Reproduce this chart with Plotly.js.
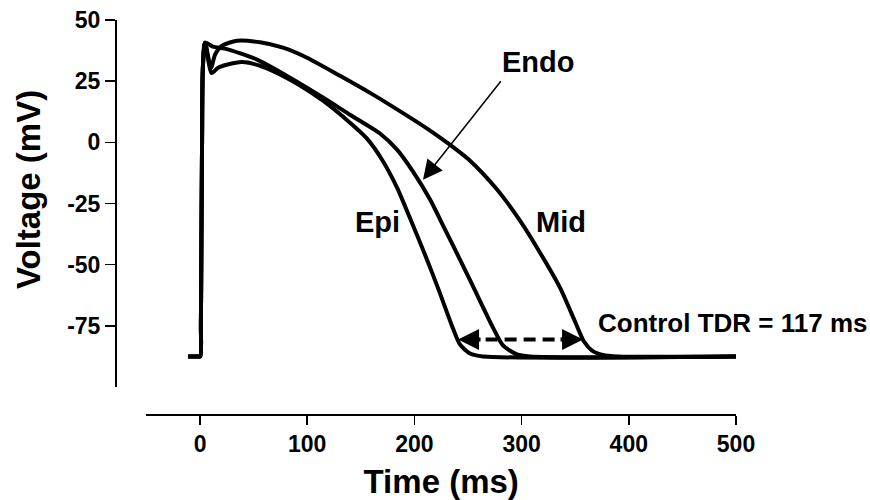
<!DOCTYPE html>
<html>
<head>
<meta charset="utf-8">
<script src="https://cdn.plot.ly/plotly-3.0.1.min.js"></script>
<style>html,body{margin:0;padding:0;background:#fff;}#chart{width:870px;height:500px;}</style>
</head>
<body>
<div id="chart"></div>
<script>
// Epicardial action potential (time ms, voltage mV)
const epiTime = [-11, -1.5, 0.3, 0.8, 1.3, 1.9, 2.6, 4.7, 10.9, 16.8, 24.9, 39.2, 56, 84, 114.7, 139.9, 155.8, 169.8, 183.8, 198.7, 209.9, 222.9, 236.0, 242.5, 251.9, 264, 500];
const epiVolt = [-87.5, -87.5, -87.5, -75, -40, 0, 30, 40.7, 28.3, 30.5, 31.7, 32.8, 31.3, 25.6, 17.0, 8.0, 1.5, -7.1, -18.5, -34.0, -45.9, -60.6, -76.1, -82.6, -86.3, -87.5, -87.5];

// Endocardial action potential
const endoTime = [-11, -1.5, 0.3, 0.8, 1.3, 1.9, 2.6, 4.7, 12.1, 23.3, 53.2, 84, 114.7, 139.9, 167.9, 183.8, 198.7, 214.6, 228.5, 241.6, 254.7, 273.3, 282.6, 295.7, 307.8, 500];
const endoVolt = [-87.5, -87.5, -87.5, -75, -40, 0, 30, 40.7, 39.1, 38.3, 33.8, 26.4, 18.3, 11.3, 3.6, -3.0, -12.0, -23.4, -35.6, -47.1, -58.9, -75.7, -83.0, -86.7, -87.5, -87.5];

// Midmyocardial (M cell) action potential
const midTime = [-11, -1.5, 0.3, 0.8, 1.3, 1.9, 2.6, 4.7, 10.3, 14, 20.5, 34.5, 56, 77.4, 99.8, 130.6, 161.4, 193.1, 214.6, 230.4, 251.9, 277.1, 298.5, 317.2, 335.8, 349.8, 358.2, 365.7, 375.9, 389.9, 500];
const midVolt = [-87.5, -87.5, -87.5, -75, -40, 0, 30, 40.7, 30.5, 35.8, 39.5, 41.5, 40.9, 38.7, 34.6, 27.2, 19.5, 10.9, 4.8, -0.1, -7.5, -19.3, -32.0, -45.1, -59.4, -73.2, -81.4, -85.1, -86.9, -87.5, -87.5];

// Axis ticks
const xTickVals = [0, 100, 200, 300, 400, 500];
const xTickText = ['0', '100', '200', '300', '400', '500'];
const yTickVals = [50, 25, 0, -25, -50, -75];
const yTickText = ['50', '25', '0', '-25', '-50', '-75'];

// Transmural dispersion of repolarization (ms)
const tdrStart = 240.7;
const tdrEnd = 357.3;
const tdrLevel = -80.6;
const tdrLabel = 'Control TDR = 117 ms';

const FONT = 'Liberation Sans, Arial, Helvetica, sans-serif';
const lineStyle = {color: '#000', width: 4, shape: 'spline', smoothing: 0.7};

const traces = [
  {x: epiTime, y: epiVolt, name: 'Epi', mode: 'lines', line: lineStyle},
  {x: endoTime, y: endoVolt, name: 'Endo', mode: 'lines', line: lineStyle},
  {x: midTime, y: midVolt, name: 'Mid', mode: 'lines', line: lineStyle}
];

const bold = (size) => ({family: FONT, size: size, color: '#000', weight: 'bold'});

const layout = {
  width: 870, height: 500,
  margin: {l: 115, r: 134, t: 20, b: 86},
  paper_bgcolor: '#fff', plot_bgcolor: '#fff',
  showlegend: false,
  xaxis: {
    domain: [0.0506, 1], range: [-50, 500], anchor: 'free', position: 0,
    showgrid: false, zeroline: false, showline: true, linecolor: '#000', linewidth: 1.5,
    ticks: 'outside', ticklen: 9, tickwidth: 1.5, tickcolor: '#000',
    tickvals: xTickVals, ticktext: xTickText, tickfont: bold(23),
    title: {text: 'Time (ms)', font: bold(33), standoff: 16}
  },
  yaxis: {
    domain: [0.0685, 1], range: [-100, 50], anchor: 'free', position: 0,
    showgrid: false, zeroline: false, showline: true, linecolor: '#000', linewidth: 1.5,
    ticks: 'outside', ticklen: 10, tickwidth: 1.5, tickcolor: '#000',
    tickvals: yTickVals, ticktext: yTickText, tickfont: bold(23)
  },
  shapes: [
    {type: 'line', xref: 'x', yref: 'y', x0: tdrStart + 8, x1: tdrEnd - 8, y0: tdrLevel, y1: tdrLevel,
     line: {color: '#000', width: 4, dash: '12px,7px'}}
  ],
  annotations: [
    {x: -0.140, y: 0.5685, xref: 'paper', yref: 'paper', xanchor: 'center', yanchor: 'middle',
     text: 'Voltage (mV)', textangle: -90, showarrow: false, font: bold(33)},
    {x: 315.3, y: 32.9, xref: 'x', yref: 'y', text: 'Endo', showarrow: false, font: bold(29)},
    {x: 166.0, y: -32.4, xref: 'x', yref: 'y', text: 'Epi', showarrow: false, font: bold(29)},
    {x: 336.8, y: -32.4, xref: 'x', yref: 'y', text: 'Mid', showarrow: false, font: bold(29)},
    {x: 496.3, y: -74.0, xref: 'x', yref: 'y', text: tdrLabel, showarrow: false, font: bold(26)},
    // Endo pointer
    {x: 208.0, y: -15.3, xref: 'x', yref: 'y', axref: 'x', ayref: 'y', ax: 281.7, ay: 25.6,
     text: '', showarrow: true, arrowhead: 2, arrowsize: 2.6, arrowwidth: 1.5, arrowcolor: '#000'},
    // TDR arrow heads
    {x: tdrStart, y: tdrLevel, xref: 'x', yref: 'y', ax: 24, ay: 0,
     text: '', showarrow: true, arrowhead: 2, arrowsize: 1.05, arrowwidth: 4, arrowcolor: '#000'},
    {x: tdrEnd, y: tdrLevel, xref: 'x', yref: 'y', ax: -24, ay: 0,
     text: '', showarrow: true, arrowhead: 2, arrowsize: 1.05, arrowwidth: 4, arrowcolor: '#000'}
  ]
};

Plotly.newPlot('chart', traces, layout, {staticPlot: true, displayModeBar: false});
</script>
</body>
</html>
